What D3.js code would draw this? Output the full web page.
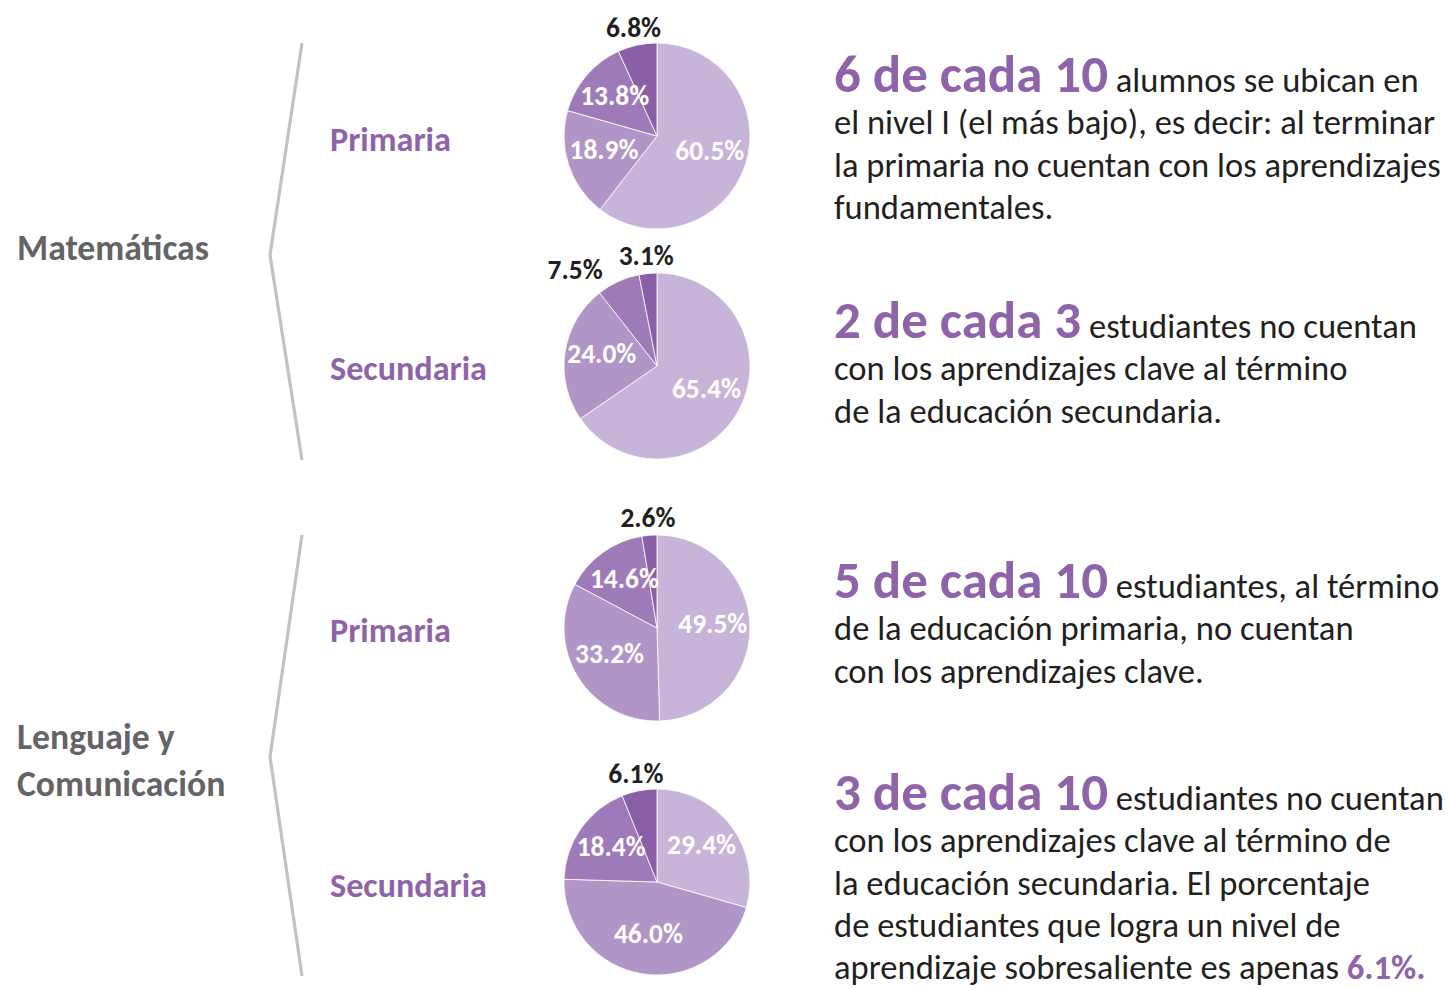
<!DOCTYPE html>
<html>
<head>
<meta charset="utf-8">
<script src="https://cdn.jsdelivr.net/npm/d3@7"></script>
<style>
  body { margin: 0; background: #fff; }
</style>
</head>
<body>
<div class="chart"></div>
<script>
// Data
var subjects = [["Matemáticas"], ["Lenguaje y", "Comunicación"]];
var levels = ["Primaria", "Secundaria", "Primaria", "Secundaria"];
var niveles = ["Nivel I", "Nivel II", "Nivel III", "Nivel IV"];
var matPrimaria = [60.5, 18.9, 13.8, 6.8];
var matSecundaria = [65.4, 24.0, 7.5, 3.1];
var lenPrimaria = [49.5, 33.2, 14.6, 2.6];
var lenSecundaria = [29.4, 46.0, 18.4, 6.1];
var headlines = ["6 de cada 10", "2 de cada 3", "5 de cada 10", "3 de cada 10"];
var notes = [
  ["alumnos se ubican en", "el nivel I (el más bajo), es decir: al terminar", "la primaria no cuentan con los aprendizajes", "fundamentales."],
  ["estudiantes no cuentan", "con los aprendizajes clave al término", "de la educación secundaria."],
  ["estudiantes, al término", "de la educación primaria, no cuentan", "con los aprendizajes clave."],
  ["estudiantes no cuentan", "con los aprendizajes clave al término de", "la educación secundaria. El porcentaje", "de estudiantes que logra un nivel de", "aprendizaje sobresaliente es apenas "]
];
var highlights = [null, null, null, "6.1%."];

var allPies = [matPrimaria, matSecundaria, lenPrimaria, lenSecundaria];

// Layout
var svgWidth = 1448, svgHeight = 988;
var font = "Carlito, Calibri, Lato, sans-serif";
var purple = "#8f63a9";
var textColor = "#231f20";
var rowY = [136, 366, 628, 882];       // pie centres
var noteY = [92, 338, 598, 810];       // first baseline of each note
var lineStep = 42.3;
var pieX = 657, radius = 93;

var svg = d3.select(".chart").append("svg")
  .attr("width", svgWidth)
  .attr("height", svgHeight)
  .style("font-family", font);

// font size that makes a string a given pixel width
function fitSize(str, weight, target) {
  var t = svg.append("text").attr("font-size", 100).attr("font-weight", weight).text(str);
  var w = t.node().getComputedTextLength();
  t.remove();
  return 100 * target / w;
}

var bodySize = fitSize("la primaria no cuentan con los aprendizajes", 400, 607);
var headSize = fitSize("6 de cada 10", 700, 274);
var subjectSize = fitSize("Matemáticas", 700, 192);
var levelSize = fitSize("Secundaria", 700, 157);
var pctSize = fitSize("65.4%", 700, 69);

var color = d3.scaleOrdinal()
  .domain(niveles)
  .range(["#c8b4d9", "#b195c7", "#9e7bb8", "#8b5fa7"]);

// Brackets
var bracketY = [[43, 255, 460], [535, 757, 976]];
var bracketLine = d3.line();
bracketY.forEach(function (b) {
  svg.append("path")
    .attr("d", bracketLine([[302, b[0]], [270, b[1]], [302, b[2]]]))
    .attr("fill", "none")
    .attr("stroke", "#c2c2c4")
    .attr("stroke-width", 3.2);
});

// Subject labels
var subjectCenters = [248, 760];
subjects.forEach(function (lines, i) {
  var t = svg.append("text")
    .attr("x", 17)
    .attr("font-size", subjectSize)
    .attr("font-weight", 700)
    .attr("fill", "#646466");
  lines.forEach(function (ln, j) {
    t.append("tspan")
      .attr("x", 17)
      .attr("y", subjectCenters[i] + (j - (lines.length - 1) / 2) * 47 + subjectSize * 0.35)
      .text(ln);
  });
});

// Level labels
var levelCenters = [139, 368, 630, 885];
levels.forEach(function (lv, i) {
  svg.append("text")
    .attr("x", 330)
    .attr("y", levelCenters[i] + levelSize * 0.35)
    .attr("font-size", levelSize)
    .attr("font-weight", 700)
    .attr("fill", purple)
    .text(lv);
});

// Pies
var pie = d3.pie().sort(null).value(function (d) { return d.value; });
var arc = d3.arc().innerRadius(0).outerRadius(radius);
var labelArc = d3.arc().innerRadius(radius * 0.6).outerRadius(radius * 0.6);

allPies.forEach(function (values, i) {
  var rows = values.map(function (v, k) { return { nivel: niveles[k], value: v }; });
  var g = svg.append("g").attr("transform", "translate(" + pieX + "," + rowY[i] + ")");
  var arcs = pie(rows);

  g.selectAll("path")
    .data(arcs)
    .enter()
    .append("path")
    .attr("d", arc)
    .attr("fill", function (d) { return color(d.data.nivel); })
    .attr("stroke", "#fff")
    .attr("stroke-width", 0.8);

  g.selectAll("text")
    .data(arcs)
    .enter()
    .append("text")
    .attr("font-size", pctSize)
    .attr("font-weight", 700)
    .attr("dy", "0.35em")
    .each(function (d) {
      var small = d.data.value < 8;
      var mid = (d.startAngle + d.endAngle) / 2;
      var t = d3.select(this);
      if (small) {
        var rr = radius + 18;
        var x = rr * Math.sin(mid), y = -rr * Math.cos(mid);
        var left = Math.sin(mid) < -0.3;
        t.attr("x", left ? x - 8 : x).attr("y", left ? y + 4 : y)
          .attr("text-anchor", left ? "end" : "middle")
          .attr("fill", "#1f1f1f");
      } else {
        var c = labelArc.centroid(d);
        t.attr("x", c[0]).attr("y", c[1] - 4)
          .attr("text-anchor", "middle")
          .attr("fill", "#fff");
      }
    })
    .text(function (d) { return d.data.value.toFixed(1) + "%"; });
});

// Notes
headlines.forEach(function (h, i) {
  var lines = notes[i];
  lines.forEach(function (ln, j) {
    var t = svg.append("text")
      .attr("x", 834)
      .attr("y", noteY[i] + j * lineStep)
      .attr("font-size", bodySize)
      .attr("fill", textColor);
    if (j === 0) {
      t.append("tspan")
        .attr("font-size", headSize)
        .attr("font-weight", 700)
        .attr("fill", purple)
        .text(h);
      t.append("tspan").text(" " + ln);
    } else {
      t.append("tspan").text(ln);
    }
    if (j === lines.length - 1 && highlights[i]) {
      t.append("tspan")
        .attr("font-weight", 700)
        .attr("fill", purple)
        .text(highlights[i]);
    }
  });
});
</script>
</body>
</html>
